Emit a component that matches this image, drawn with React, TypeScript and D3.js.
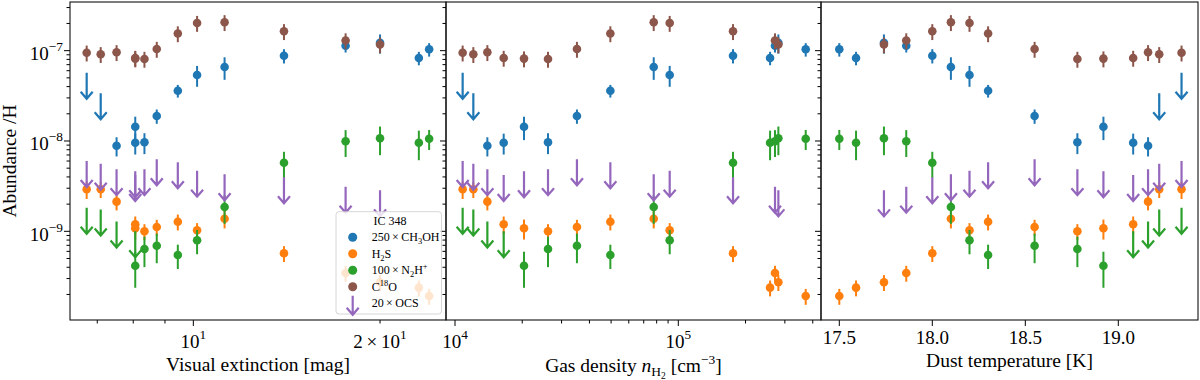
import React from 'react';
import * as d3 from 'd3';

// IC 348 positions, ordered by dust temperature
const extinction = [24.0, 23.1, 20.0, 17.6, 14.0, 11.23, 10.14, 9.44, 8.73, 8.34, 8.06, 8.06, 7.52, 7.09, 6.73];
const density = [372000, 257600, 280600, 271000, 175800, 77600, 91500, 49620, 35160, 26090, 20370, 16520, 13960, 12080, 10820];
const temperature = [17.5, 17.59, 17.74, 17.86, 18.0, 18.1, 18.2, 18.3, 18.55, 18.78, 18.92, 19.08, 19.16, 19.22, 19.34];

// abundances as plotted (already scaled), null = not observed
const ch3oh = [1.035e-7, 8.3e-8, 1.22e-7, 1.135e-7, 8.8e-8, 6.6e-8, 5.38e-8, 3.6e-8, 1.89e-8, 9.67e-9, 1.44e-8, 9.57e-9, 8.87e-9, 2.42e-8, 4.08e-8];
const ch3ohErr = [0.17, 0.17, 0.24, 0.16, 0.18, 0.28, 0.26, 0.16, 0.18, 0.26, 0.29, 0.26, 0.24, 0, 0];
const ch3ohLim = [false, false, false, false, false, false, false, false, false, false, false, false, false, true, true];

const h2s = [1.92e-10, 2.38e-10, 2.73e-10, 3.46e-10, 5.71e-10, 1.38e-9, 1.027e-9, 1.278e-9, 1.117e-9, 1.0e-9, 1.08e-9, 1.196e-9, 2.13e-9, 2.92e-9, 2.92e-9];
const h2sErr = [0.2, 0.2, 0.2, 0.2, 0.2, 0.22, 0.2, 0.2, 0.2, 0.2, 0.25, 0.22, 0.2, 0.2, 0.22];

const n2hp = [1.06e-8, 9.57e-9, 1.071e-8, 9.92e-9, 5.75e-9, 1.86e-9, 7.96e-10, 5.47e-10, 6.93e-10, 6.37e-10, 4.16e-10, 7.2e-10, 9.23e-10, 1.253e-9, 1.308e-9];
const n2hpErr = [0.25, 0.36, 0.35, 0.33, 0.32, 0.35, 0.3, 0.3, 0.36, 0.37, 0.43, 0, 0, 0, 0];
const n2hpLim = [false, false, false, false, false, false, false, false, false, false, false, true, true, true, true];

const c18o = [null, null, 1.17e-7, 1.296e-7, 1.638e-7, 2.06e-7, 2.02e-7, 1.55e-7, 1.043e-7, 8.09e-8, 8.17e-8, 8.3e-8, 9.59e-8, 9.12e-8, 9.49e-8];
const c18oErr = [0, 0, 0.2, 0.2, 0.2, 0.2, 0.2, 0.2, 0.2, 0.2, 0.2, 0.2, 0.2, 0.2, 0.2];

const ocs = [null, null, 2.04e-9, 2.24e-9, 2.85e-9, 3.08e-9, 3.37e-9, 4.18e-9, 4.5e-9, 3.5e-9, 3.32e-9, 3.02e-9, 3.5e-9, 4.02e-9, 4.31e-9];

const series = [
  { key: 'ch3oh', color: '#1f77b4', values: ch3oh, errs: ch3ohErr, lims: ch3ohLim },
  { key: 'h2s', color: '#ff7f0e', values: h2s, errs: h2sErr, lims: h2s.map(() => false) },
  { key: 'n2hp', color: '#2ca02c', values: n2hp, errs: n2hpErr, lims: n2hpLim },
  { key: 'c18o', color: '#8c564b', values: c18o, errs: c18oErr, lims: c18o.map(() => false) },
  { key: 'ocs', color: '#9467bd', values: ocs, errs: ocs.map(() => 0), lims: ocs.map(() => true) },
];

const FONT = '"Liberation Serif", "Times New Roman", serif';
const TOP = 2;
const BOTTOM = 320;

const y = d3.scaleLog().domain([1.043e-10, 3.457e-7]).range([BOTTOM, TOP]);

const arrow = (cx, cy, h = 26) => {
  const t = cy - h / 2;
  const b = cy + h / 2;
  return `M${cx},${t}L${cx},${b}M${cx - 6},${b - 7}L${cx},${b}L${cx + 6},${b - 7}`;
};

const Pow = ({ base, exp, x, yb, anchor = 'middle', size = 19 }) => (
  <text x={x} y={yb} textAnchor={anchor} fontSize={size} fontFamily={FONT} fill="#000">
    <tspan>{base}</tspan>
    <tspan dy={-9} fontSize={size * 0.7}>{exp}</tspan>
  </text>
);

function Panel({ xs, xScale, ticks, ylabels }) {
  const [x0, x1] = xScale.range();
  const yMinor = [];
  for (let k = -10; k <= -7; k++) {
    for (let m = 1; m <= 9; m++) {
      const v = m * Math.pow(10, k);
      if (v >= y.domain()[0] && v <= y.domain()[1]) yMinor.push({ v, major: m === 1 });
    }
  }
  return (
    <g>
      {/* y ticks on the left spine, pointing out */}
      {yMinor.map((t, i) => (
        <line key={'yt' + i} x1={x0} x2={x0 - (t.major ? 6 : 3.5)} y1={y(t.v)} y2={y(t.v)} stroke="#000" strokeWidth={1} />
      ))}
      {ylabels && [-7, -8, -9].map(k => (
        <Pow key={'yl' + k} base="10" exp={'\u2212' + (-k)} x={63} yb={y(Math.pow(10, k)) + 9.3} anchor="end" />
      ))}
      {/* x ticks */}
      {ticks.map((t, i) => (
        <g key={'xt' + i}>
          <line x1={xScale(t.v)} x2={xScale(t.v)} y1={BOTTOM} y2={BOTTOM + (t.major ? 6 : 3.5)} stroke="#000" strokeWidth={1} />
          {t.label}
        </g>
      ))}
      {/* data */}
      {series.map(s => (
        <g key={s.key}>
          {s.values.map((v, i) => {
            if (v == null) return null;
            const cx = xScale(xs[i]);
            const cy = y(v);
            if (s.lims[i]) {
              return <path key={i} d={arrow(cx, cy)} stroke={s.color} strokeWidth={2.2} fill="none" />;
            }
            const e = s.errs[i];
            return (
              <g key={i}>
                <line x1={cx} x2={cx} y1={y(v * (1 + e))} y2={y(v * (1 - e))} stroke={s.color} strokeWidth={2} />
                <circle cx={cx} cy={cy} r={4.3} fill={s.color} />
              </g>
            );
          })}
        </g>
      ))}
    </g>
  );
}

const xAv = d3.scaleLog().domain([6.326, 25.55]).range([70, 446]);
const xN = d3.scaleLog().domain([9113, 435500]).range([446, 821]);
const xT = d3.scaleLinear().domain([17.4016, 19.4285]).range([821, 1198]);

const avTicks = [
  { v: 7, major: false }, { v: 8, major: false }, { v: 9, major: false },
  { v: 10, major: true, label: <Pow base="10" exp="1" x={xAv(10)} yb={347.8} /> },
  { v: 20, major: false, label: <Pow base={'2\u2009\u00d7\u200910'} exp="1" x={xAv(20)} yb={347.8} /> },
];

const nTicks = [];
for (let k = 4; k <= 5; k++) {
  for (let m = 1; m <= 9; m++) {
    const v = m * Math.pow(10, k);
    if (v < xN.domain()[0] || v > xN.domain()[1]) continue;
    nTicks.push({
      v,
      major: m === 1,
      label: m === 1 ? <Pow base="10" exp={String(k)} x={xN(v)} yb={347.8} /> : null,
    });
  }
}

const tTicks = xT.ticks(4).filter(v => v >= 17.5).map(v => ({
  v,
  major: true,
  label: (
    <text x={xT(v)} y={343.5} textAnchor="middle" fontSize={19} fontFamily={FONT}>{d3.format('.1f')(v)}</text>
  ),
}));

const legendItems = [
  { color: '#1f77b4', kind: 'dot', text: <><tspan>{'250\u2009\u00d7\u2009CH'}</tspan><tspan dy={3} fontSize={8.5}>3</tspan><tspan dy={-3}>OH</tspan></> },
  { color: '#ff7f0e', kind: 'dot', text: <><tspan>H</tspan><tspan dy={3} fontSize={8.5}>2</tspan><tspan dy={-3}>S</tspan></> },
  { color: '#2ca02c', kind: 'dot', text: <><tspan>{'100\u2009\u00d7\u2009N'}</tspan><tspan dy={3} fontSize={8.5}>2</tspan><tspan dy={-3}>H</tspan><tspan dy={-5} fontSize={8.5}>+</tspan></> },
  { color: '#8c564b', kind: 'dot', text: <><tspan>C</tspan><tspan dy={-5} fontSize={8.5}>18</tspan><tspan dy={5}>O</tspan></> },
  { color: '#9467bd', kind: 'arrow', text: <tspan>{'20\u2009\u00d7\u2009OCS'}</tspan> },
];

export default function App() {
  return (
    <svg width={1200} height={380} style={{ position: 'absolute', left: 0, top: 0, background: '#fff' }}>
      <rect x={0} y={0} width={1200} height={380} fill="#fff" />
      <Panel xs={extinction} xScale={xAv} ticks={avTicks} ylabels />
      <Panel xs={density} xScale={xN} ticks={nTicks} />
      <Panel xs={temperature} xScale={xT} ticks={tTicks} />

      {/* spines */}
      {[xAv, xN, xT].map((s, i) => (
        <rect key={i} x={s.range()[0]} y={TOP} width={s.range()[1] - s.range()[0]} height={BOTTOM - TOP}
          fill="none" stroke="#111" strokeWidth={1.1} />
      ))}

      {/* legend */}
      <g fontFamily={FONT} fontSize={12}>
        <rect x={336} y={211.7} width={105.5} height={102.3} rx={3} fill="#fff" fillOpacity={0.8} stroke="#ccc" strokeWidth={0.8} />
        <text x={390} y={225} textAnchor="middle">IC 348</text>
        {legendItems.map((it, i) => {
          const cy = 237.3 + i * 16.5;
          return (
            <g key={i}>
              {it.kind === 'dot'
                ? <circle cx={352.7} cy={cy} r={4.5} fill={it.color} />
                : <path d={arrow(352.7, cy + 2, 19)} stroke={it.color} strokeWidth={2.2} fill="none" />}
              <text x={371.7} y={cy + 4}>{it.text}</text>
            </g>
          );
        })}
      </g>

      {/* axis labels */}
      <text transform="translate(15.5,161) rotate(-90)" textAnchor="middle" fontSize={19.5} fontFamily={FONT}>Abundance /H</text>
      <text x={258} y={370.5} textAnchor="middle" fontSize={19.5} fontFamily={FONT}>Visual extinction [mag]</text>
      <text x={633.5} y={372} textAnchor="middle" fontSize={19.5} fontFamily={FONT}>
        <tspan>Gas density </tspan>
        <tspan fontStyle="italic">n</tspan>
        <tspan dy={4} fontSize={13.5}>H</tspan>
        <tspan dy={2.5} fontSize={9.5}>2</tspan>
        <tspan dy={-6.5}> [cm</tspan>
        <tspan dy={-8} fontSize={13.5}>{'\u22123'}</tspan>
        <tspan dy={8}>]</tspan>
      </text>
      <text x={1009.5} y={366.5} textAnchor="middle" fontSize={19.5} fontFamily={FONT}>Dust temperature [K]</text>
    </svg>
  );
}
